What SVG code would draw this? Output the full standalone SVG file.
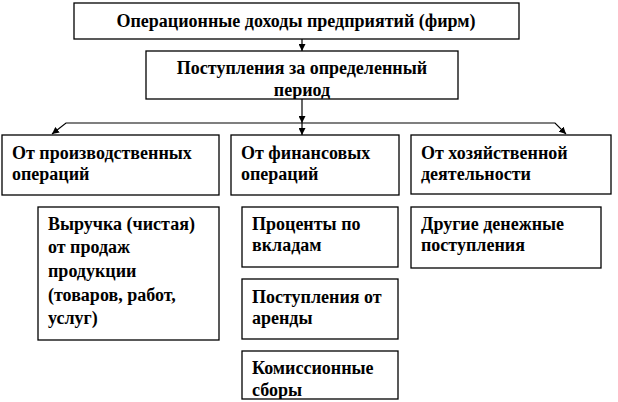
<svg xmlns="http://www.w3.org/2000/svg" width="618" height="402" viewBox="0 0 618 402">
<style>
.box{fill:#fff;stroke:#000;stroke-width:1.3}
.c{text-anchor:middle}
.ln{fill:none;stroke:#000;stroke-width:1.2}
</style>
<defs>
<marker id="ah" viewBox="0 0 10 10" refX="10" refY="5" markerWidth="7" markerHeight="7" markerUnits="userSpaceOnUse" orient="auto">
<path d="M0,0 L10,5 L0,10 z" fill="#000"/>
</marker>
<clipPath id="cp2"><rect x="146" y="51" width="312" height="48"/></clipPath>
<clipPath id="cp9"><rect x="242" y="351" width="156" height="48"/></clipPath>
</defs>
<rect width="618" height="402" fill="#fff"/>
<g id="connectors">
<line class="ln" x1="302" y1="39" x2="302" y2="51" marker-end="url(#ah)"/>
<line class="ln" x1="302" y1="99" x2="302" y2="123" marker-end="url(#ah)"/>
<line class="ln" x1="302" y1="123" x2="302" y2="135" marker-end="url(#ah)"/>
<polyline class="ln" points="302,123 66,123 52,134" marker-end="url(#ah)"/>
<polyline class="ln" points="302,123 555,123 566,134" marker-end="url(#ah)"/>
</g>
<g font-family="Liberation Serif, DejaVu Serif, Times New Roman, serif" font-weight="bold" font-size="18" fill="#000">
<g id="n1"><rect class="box" x="74" y="3" width="445" height="36"/><text class="c" x="296" y="27">Операционные доходы предприятий (фирм)</text></g>
<g id="n2"><rect class="box" x="146" y="51" width="312" height="48"/><g clip-path="url(#cp2)"><text class="c" x="302" y="74">Поступления за определенный</text><text class="c" x="302" y="96">период</text></g></g>
<g id="n3"><rect class="box" x="2" y="135" width="217" height="60"/><text x="12" y="159">От производственных</text><text x="12" y="180">операций</text></g>
<g id="n4"><rect class="box" x="231" y="135" width="168" height="60"/><text x="241" y="159">От финансовых</text><text x="241" y="180">операций</text></g>
<g id="n5"><rect class="box" x="411" y="135" width="200" height="59"/><text x="421" y="159">От хозяйственной</text><text x="421" y="180">деятельности</text></g>
<g id="n6"><rect class="box" x="38" y="207" width="181" height="133"/><text x="48" y="230">Выручка (чистая)</text><text x="48" y="253">от продаж</text><text x="48" y="277">продукции</text><text x="48" y="301">(товаров, работ,</text><text x="48" y="324">услуг)</text></g>
<g id="n7"><rect class="box" x="242" y="207" width="156" height="60"/><text x="252" y="230">Проценты по</text><text x="252" y="251">вкладам</text></g>
<g id="n8"><rect class="box" x="242" y="279" width="156" height="60"/><text x="252" y="303">Поступления от</text><text x="252" y="324">аренды</text></g>
<g id="n9"><rect class="box" x="242" y="351" width="156" height="48"/><g clip-path="url(#cp9)"><text x="252" y="374">Комиссионные</text><text x="252" y="396">сборы</text></g></g>
<g id="n10"><rect class="box" x="411" y="207" width="190" height="61"/><text x="421" y="230">Другие денежные</text><text x="421" y="251">поступления</text></g>
</g>
</svg>
